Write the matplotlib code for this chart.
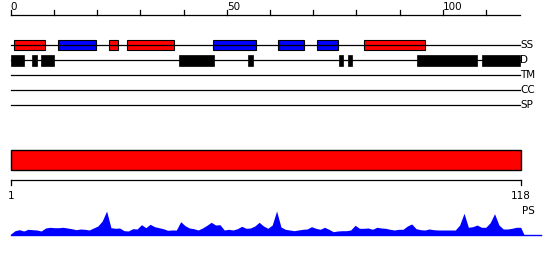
import matplotlib
matplotlib.use("Agg")
import matplotlib.pyplot as plt
from matplotlib.patches import Rectangle
import numpy as np

SEQ_LEN = 118

# secondary structure segments (start, end) in residue units, 0-based ruler
SS_RED  = [(1, 8), (23, 25), (27, 38), (82, 96)]
SS_BLUE = [(11, 20), (47, 57), (62, 68), (71, 76)]
# disorder segments
DIS = [(0, 3), (5, 6), (7, 10), (39, 47), (55, 56), (76, 77), (78, 79), (94, 108), (109, 118)]
TRACKS = ["SS", "D", "TM", "CC", "SP"]

# PS profile, one value per residue (1..118)
PS = [1, 4.3, 5.3, 4, 5.7, 5.3, 5, 4, 7, 7.7,
      7.3, 7.3, 7.7, 7, 6.3, 5.3, 6, 5.7, 5, 7,
      9, 14, 24, 7.3, 6.7, 7, 4.3, 4, 6.3, 6,
      10.3, 7.3, 10.7, 8.3, 7.3, 6.3, 4.7, 5, 5, 13.3,
      9.3, 7, 6.3, 5, 7, 9.7, 12.7, 10, 10.3, 5,
      5.7, 5, 6.3, 8.7, 6.7, 7, 9, 12.7, 9, 6.7,
      10, 24, 8, 5.7, 5, 4.3, 5, 5.7, 6, 8.3,
      6.7, 5.7, 7.7, 5.7, 3.3, 4, 4.3, 4.3, 5, 9.7,
      6.7, 6.7, 7, 5.7, 7.7, 7, 6.7, 5.7, 5, 5.7,
      5.7, 9, 11, 6.3, 5.3, 5, 6, 5.3, 5, 5,
      5, 5, 5, 10, 21.7, 7.7, 8.3, 10, 7.7, 7.7,
      12.3, 21.3, 10, 6, 6, 6.7, 7.7, 7.7]

W, H = 550, 260
fig = plt.figure(figsize=(W / 100, H / 100), dpi=100)
FS = 7.5

def pix_axes(x0_px, scale, x0_val):
    # full-figure axes, y in pixels (top down), x in residues
    ax = fig.add_axes([0, 0, 1, 1], facecolor="none")
    lo = x0_val - x0_px / scale
    ax.set_xlim(lo, lo + W / scale)
    ax.set_ylim(H, 0)
    ax.axis("off")
    return ax

# ---- top panel: ruler + tracks
top = pix_axes(10.7, 4.32, 0)
lw = 0.9
top.plot([0, SEQ_LEN], [15, 15], color="black", lw=lw)
for t in range(0, SEQ_LEN, 10):
    top.plot([t, t], [15, 10], color="black", lw=lw)
for t in (0, 50, 100):
    top.text(t, 7, str(t), ha="left", va="center", fontsize=FS)

track_y = dict(zip(TRACKS, [45, 60.3, 75.3, 90.3, 105.3]))
for name, y in track_y.items():
    top.plot([0, SEQ_LEN], [y, y], color="black", lw=lw)
    top.text(SEQ_LEN, y, name, ha="left", va="center", fontsize=FS)

for segs, col in ((SS_RED, "#ff0000"), (SS_BLUE, "#0000ff")):
    for s, e in segs:
        top.add_patch(Rectangle((s - 0.15, track_y["SS"] - 5), e - s, 10,
                                facecolor=col, edgecolor="black", lw=0.8))
for s, e in DIS:
    top.add_patch(Rectangle((s, track_y["D"] - 5.3), e - s, 10.6,
                            facecolor="black", edgecolor="black", lw=0.5))

# ---- bottom panel: domain bar, ruler, profile
bot = pix_axes(10.7, 510 / 117, 1)
bot.add_patch(Rectangle((1, 150.3), SEQ_LEN - 1, 20, facecolor="#ff0000",
                        edgecolor="black", lw=1))
bot.plot([1, SEQ_LEN], [180.3, 180.3], color="black", lw=lw)
for t in (1, SEQ_LEN):
    bot.plot([t, t], [180.3, 185], color="black", lw=lw)
    bot.text(t, 196, str(t), ha="center", va="center", fontsize=FS)
bot.text(SEQ_LEN + 0.2, 211, "PS", ha="left", va="center", fontsize=FS)

base = 235
x = np.arange(1, SEQ_LEN + 1)
xs = np.concatenate([[1], x, [SEQ_LEN + 0.8]])
ys = base - np.concatenate([[0], PS, [0]])
bot.fill_between(xs, ys, base, color="#0000ff", lw=0)
bot.plot([1, SEQ_LEN + 4.6], [base, base], color="#0000ff", lw=1)

fig.savefig("out.png", dpi=100)
